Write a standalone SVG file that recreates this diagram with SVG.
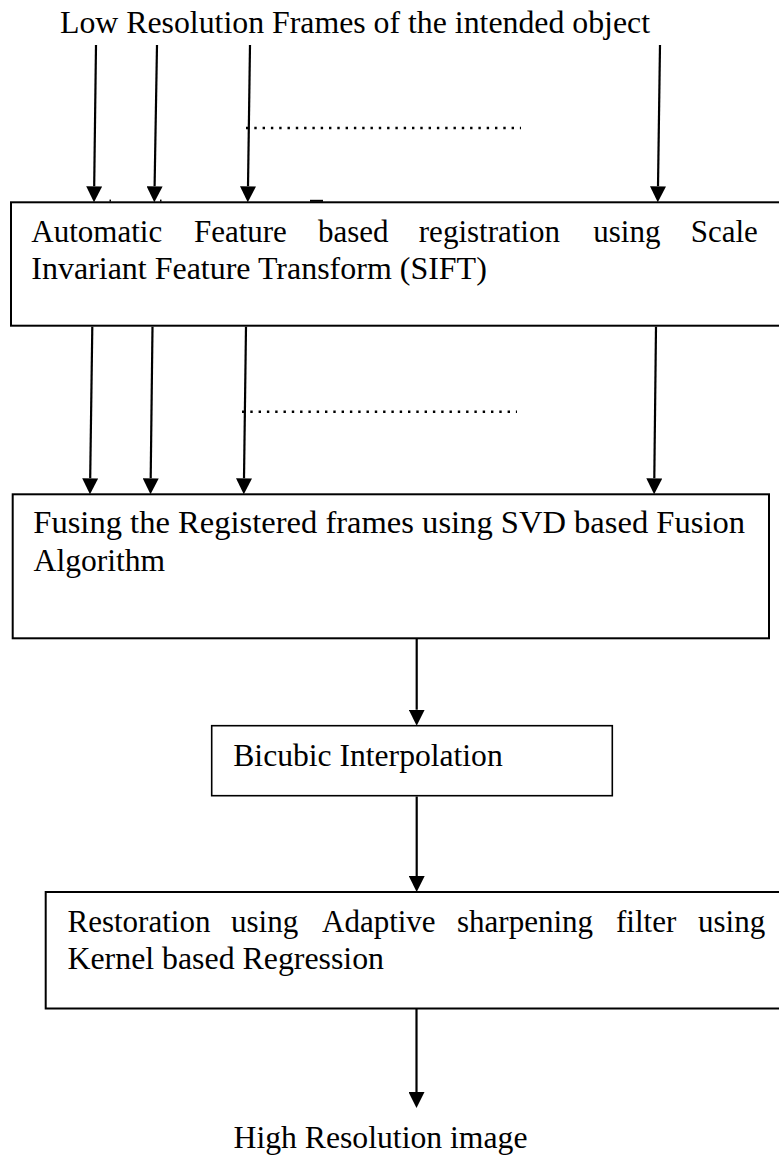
<svg xmlns="http://www.w3.org/2000/svg" width="779" height="1156" viewBox="0 0 779 1156">
  <defs>
    <style>
      .t { font-family: "Liberation Serif", "Times New Roman", serif; font-size: 31px; fill: #000; }
      .box { fill: none; stroke: #000; stroke-width: 2; }
      .thin { stroke-width: 1.6; }
      .conn { stroke: #000; stroke-width: 2.2; fill: none; marker-end: url(#ah); }
      .dots { stroke: #000; stroke-width: 2.6; stroke-dasharray: 2.4 5.9; fill: none; }
    </style>
    <marker id="ah" markerUnits="userSpaceOnUse" markerWidth="16" markerHeight="16" viewBox="0 0 16 16" refX="0" refY="8" orient="auto">
      <path d="M0,0 L16,8 L0,16 z" fill="#000"/>
    </marker>
  </defs>
  <rect width="779" height="1156" fill="#fff"/>

  <g id="title">
    <text class="t" x="60" y="32.5" textLength="590" lengthAdjust="spacingAndGlyphs">Low Resolution Frames of the intended object</text>
  </g>

  <g id="registration">
    <rect class="box" x="11" y="202.3" width="790" height="123.4"/>
    <rect x="109.5" y="199.6" width="1.5" height="2" fill="#000"/>
    <rect x="160" y="199.6" width="1.5" height="2" fill="#000"/>
    <rect x="310" y="199.8" width="13" height="2" fill="#000"/>
    <text class="t" y="241.7">
      <tspan x="31.3">Automatic</tspan>
      <tspan x="193.9">Feature</tspan>
      <tspan x="318">based</tspan>
      <tspan x="418.8">registration</tspan>
      <tspan x="593.3">using</tspan>
      <tspan x="690.7">Scale</tspan>
    </text>
    <text class="t" x="31.3" y="279.3" textLength="455.5" lengthAdjust="spacingAndGlyphs">Invariant Feature Transform (SIFT)</text>
  </g>

  <g id="fusion">
    <rect class="box" x="12.7" y="494.3" width="756.3" height="144"/>
    <text class="t" x="33.3" y="533.3" textLength="711.7" lengthAdjust="spacingAndGlyphs">Fusing the Registered frames using SVD based Fusion</text>
    <text class="t" x="33.6" y="571" textLength="131.6" lengthAdjust="spacingAndGlyphs">Algorithm</text>
  </g>

  <g id="bicubic">
    <rect class="box thin" x="211.7" y="725.7" width="400.6" height="70"/>
    <text class="t" x="233.3" y="766" textLength="269.4" lengthAdjust="spacingAndGlyphs">Bicubic Interpolation</text>
  </g>

  <g id="restoration">
    <rect class="box" x="45.7" y="892" width="760" height="116.5"/>
    <text class="t" y="931.7">
      <tspan x="67.5">Restoration</tspan>
      <tspan x="231">using</tspan>
      <tspan x="322">Adaptive</tspan>
      <tspan x="457">sharpening</tspan>
      <tspan x="616">filter</tspan>
      <tspan x="698">using</tspan>
    </text>
    <text class="t" x="67.5" y="969.3" textLength="316.5" lengthAdjust="spacingAndGlyphs">Kernel based Regression</text>
  </g>

  <g id="output">
    <text class="t" x="233.5" y="1148" textLength="294" lengthAdjust="spacingAndGlyphs">High Resolution image</text>
  </g>

  <g id="connectors">
    <path class="conn" d="M96,45 L94.2,186.3"/>
    <path class="conn" d="M157,45 L154.6,186.3"/>
    <path class="conn" d="M250,45 L248,186.3"/>
    <path class="conn" d="M660,45 L658,186.3"/>
    <line class="dots" x1="246" y1="128" x2="521" y2="128"/>

    <path class="conn" d="M92.3,326.7 L90.2,478.3"/>
    <path class="conn" d="M152.5,326.7 L150.7,478.3"/>
    <path class="conn" d="M246,326.7 L244,478.3"/>
    <path class="conn" d="M656,326.7 L654.3,478.3"/>
    <line class="dots" x1="242" y1="411.7" x2="517" y2="411.7"/>

    <path class="conn" d="M416.7,639 L416.7,709.7"/>
    <path class="conn" d="M416.7,796.5 L416.7,876"/>
    <path class="conn" d="M416.5,1009 L416.5,1092"/>
  </g>
</svg>
